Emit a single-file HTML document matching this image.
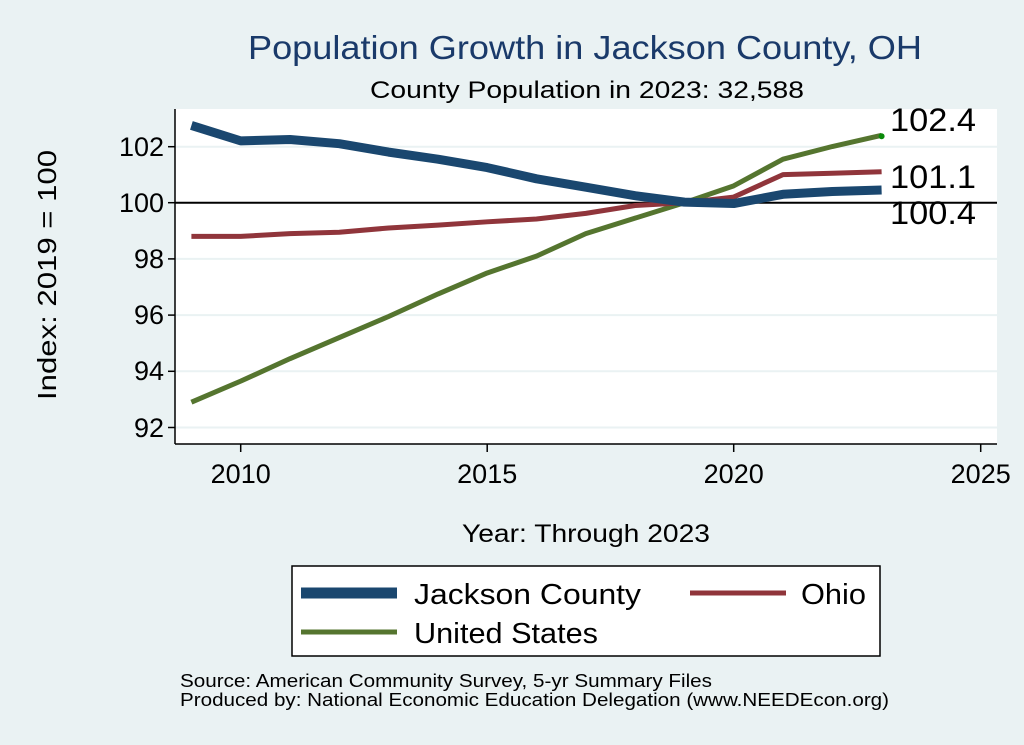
<!DOCTYPE html>
<html><head><meta charset="utf-8"><style>
html,body{margin:0;padding:0;background:#eaf2f3;}
svg{display:block;font-family:"Liberation Sans",Arial,sans-serif;}
</style></head><body>
<svg width="1024" height="745" viewBox="0 0 1024 745">
<rect width="1024" height="745" fill="#eaf2f3"/>
<text x="248" y="59" font-size="33" fill="#1a3a6a" textLength="674" lengthAdjust="spacingAndGlyphs">Population Growth in Jackson County, OH</text>
<text x="370" y="98" font-size="24" fill="#000" textLength="434" lengthAdjust="spacingAndGlyphs">County Population in 2023: 32,588</text>
<rect x="175" y="109" width="822" height="335" fill="#fff"/>
<g stroke="#eaf2f3" stroke-width="2">
<line x1="175" x2="997" y1="146.7" y2="146.7"/>
<line x1="175" x2="997" y1="258.9" y2="258.9"/>
<line x1="175" x2="997" y1="315.1" y2="315.1"/>
<line x1="175" x2="997" y1="371.3" y2="371.3"/>
<line x1="175" x2="997" y1="427.5" y2="427.5"/>
</g>
<line x1="175" x2="997" y1="202.7" y2="202.7" stroke="#000" stroke-width="2"/>
<g transform="translate(191.4,3012.7) scale(49.3,-28.1)" fill="none" stroke-linejoin="round">
<polyline vector-effect="non-scaling-stroke" stroke="#55752f" stroke-width="5" points="0,92.9 1,93.65 2,94.45 3,95.2 4,95.95 5,96.75 6,97.5 7,98.1 8,98.9 9,99.45 10,100 11,100.6 12,101.55 13,102.0 14,102.4"/>
<polyline vector-effect="non-scaling-stroke" stroke="#90353b" stroke-width="5" points="0,98.8 1,98.8 2,98.9 3,98.95 4,99.1 5,99.2 6,99.32 7,99.42 8,99.62 9,99.9 10,100 11,100.2 12,101.0 13,101.05 14,101.1"/>
<polyline vector-effect="non-scaling-stroke" stroke="#1a476f" stroke-width="9" points="0,102.75 1,102.2 2,102.25 3,102.1 4,101.8 5,101.55 6,101.25 7,100.85 8,100.55 9,100.25 10,100.02 11,99.97 12,100.3 13,100.4 14,100.45"/>
</g>
<circle cx="881.6" cy="136.3" r="3" fill="#0a8a0a"/>
<g font-size="32">
<text x="890" y="131" textLength="86" lengthAdjust="spacingAndGlyphs">102.4</text>
<text x="890" y="188" textLength="86" lengthAdjust="spacingAndGlyphs">101.1</text>
<text x="890" y="224" textLength="86" lengthAdjust="spacingAndGlyphs">100.4</text>
</g>
<line x1="175" y1="109" x2="175" y2="444" stroke="#000" stroke-width="1.5"/>
<line x1="175" y1="444" x2="997" y2="444" stroke="#000" stroke-width="1.5"/>
<g stroke="#000" stroke-width="1.5">
<line x1="168" x2="175" y1="146.7" y2="146.7"/><line x1="168" x2="175" y1="202.7" y2="202.7"/>
<line x1="168" x2="175" y1="258.9" y2="258.9"/><line x1="168" x2="175" y1="315.1" y2="315.1"/>
<line x1="168" x2="175" y1="371.3" y2="371.3"/><line x1="168" x2="175" y1="427.5" y2="427.5"/>
<line x1="240.7" x2="240.7" y1="444" y2="452"/><line x1="487.2" x2="487.2" y1="444" y2="452"/>
<line x1="733.7" x2="733.7" y1="444" y2="452"/><line x1="980.7" x2="980.7" y1="444" y2="452"/>
</g>
<g font-size="27" text-anchor="end">
<text x="164" y="156">102</text><text x="164" y="212">100</text><text x="164" y="268">98</text>
<text x="164" y="324">96</text><text x="164" y="380">94</text><text x="164" y="437">92</text>
</g>
<g font-size="27" text-anchor="middle">
<text x="240.7" y="483">2010</text><text x="487.2" y="483">2015</text>
<text x="733.7" y="483">2020</text><text x="980.7" y="483">2025</text>
</g>
<text transform="translate(56,400) rotate(-90)" font-size="26" textLength="250" lengthAdjust="spacingAndGlyphs">Index: 2019 = 100</text>
<text x="462" y="542" font-size="25" textLength="248" lengthAdjust="spacingAndGlyphs">Year: Through 2023</text>
<rect x="292" y="566" width="588" height="90" fill="#fff" stroke="#000" stroke-width="1.5"/>
<line x1="301" x2="397" y1="593" y2="593" stroke="#1a476f" stroke-width="11"/>
<text x="414" y="604" font-size="29" textLength="227" lengthAdjust="spacingAndGlyphs">Jackson  County</text>
<line x1="690" x2="786" y1="593" y2="593" stroke="#90353b" stroke-width="5"/>
<text x="801" y="604" font-size="29" textLength="65" lengthAdjust="spacingAndGlyphs">Ohio</text>
<line x1="301" x2="397" y1="632" y2="632" stroke="#55752f" stroke-width="5"/>
<text x="414" y="643" font-size="29" textLength="184" lengthAdjust="spacingAndGlyphs">United States</text>
<text x="180" y="687" font-size="18" textLength="532" lengthAdjust="spacingAndGlyphs">Source: American Community Survey, 5-yr Summary Files</text>
<text x="180" y="706" font-size="18" textLength="709" lengthAdjust="spacingAndGlyphs">Produced by: National Economic Education Delegation (www.NEEDEcon.org)</text>
</svg>
</body></html>
